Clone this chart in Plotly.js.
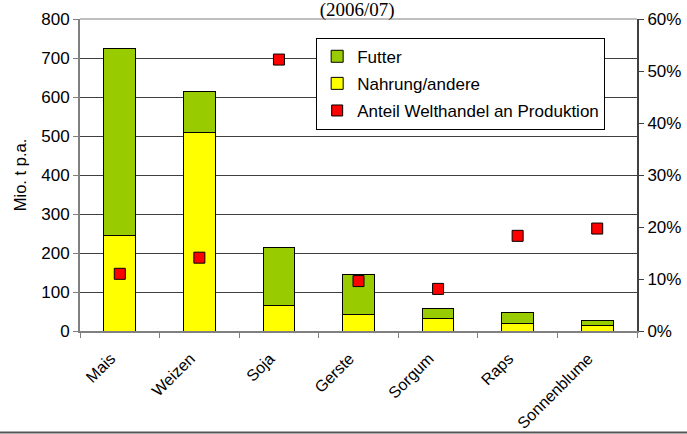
<!DOCTYPE html>
<html>
<head>
<meta charset="utf-8">
<script src="https://cdn.plot.ly/plotly-3.0.1.min.js"></script>
<style>
  html, body { margin: 0; padding: 0; background: #fff; }
  #plot1 { width: 687px; height: 434px; }
</style>
</head>
<body>
<div id="plot1"></div>
<script>
var kulturen = ['Mais', 'Weizen', 'Soja', 'Gerste', 'Sorgum', 'Raps', 'Sonnenblume'];

// Mio. t p.a.
var nahrung = [246, 509, 65, 43, 33, 20, 14];
var futter = [479, 106, 150, 102, 24, 27, 12];

// Anteil Welthandel an Produktion (Anteil von 1)
var anteil_welthandel = [0.110, 0.141, 0.522, 0.096, 0.081, 0.183, 0.197];

var trace1 = {
  x: kulturen,
  y: nahrung,
  type: 'bar',
  name: 'Nahrung/andere',
  legendrank: 2,
  legendgroup: 'b',
  marker: {color: '#FFFF00', line: {color: '#000', width: 1}}
};

var trace2 = {
  x: kulturen,
  y: futter,
  type: 'bar',
  name: 'Futter',
  legendrank: 1,
  legendgroup: 'a',
  marker: {color: '#99CC00', line: {color: '#000', width: 1}}
};

var trace3 = {
  x: kulturen,
  y: anteil_welthandel,
  yaxis: 'y2',
  type: 'scatter',
  mode: 'markers',
  name: 'Anteil Welthandel an Produktion',
  legendrank: 3,
  legendgroup: 'c',
  marker: {symbol: 'square', size: 11, color: '#FF0000', line: {color: '#000', width: 1}}
};

var layout = {
  width: 687,
  height: 434,
  margin: {l: 80, r: 50, t: 19, b: 103},
  barmode: 'stack',
  bargap: 0.6,
  showlegend: true,
  paper_bgcolor: '#fff',
  plot_bgcolor: '#fff',
  font: {family: 'Liberation Sans, Arial, sans-serif', size: 17, color: '#000'},
  title: {
    text: '(2006/07)',
    font: {family: 'Liberation Serif, Times New Roman, serif', size: 19, color: '#000'},
    x: 0.52, xanchor: 'center',
    yref: 'container', y: 0.993, yanchor: 'top'
  },
  xaxis: {
    tickangle: -45,
    tickson: 'boundaries',
    ticks: 'outside', ticklen: 5, tickcolor: '#808080',
    showline: true, linecolor: '#808080', linewidth: 2,
    ticklabelstandoff: 10,
    ticklabelshift: -9,
    tickfont: {size: 16}
  },
  yaxis: {
    range: [0, 800],
    dtick: 100,
    ticks: 'outside', ticklen: 5, tickcolor: '#808080',
    showline: true, linecolor: '#808080', linewidth: 2,
    gridcolor: '#404040', gridwidth: 1,
    zeroline: false,
    title: {text: 'Mio. t p.a.', font: {size: 16.5}, standoff: 10},
    tickfont: {size: 17}
  },
  yaxis2: {
    overlaying: 'y',
    side: 'right',
    range: [0, 0.6],
    dtick: 0.1,
    tickformat: '.0%',
    ticks: 'outside', ticklen: 5, tickcolor: '#404040',
    showline: true, linecolor: '#404040', linewidth: 2,
    showgrid: false, zeroline: false,
    tickfont: {size: 17}
  },
  legend: {
    x: 0.424, y: 0.94, xanchor: 'left', yanchor: 'top',
    bgcolor: '#fff', bordercolor: '#000', borderwidth: 1,
    traceorder: 'grouped', tracegroupgap: 2,
    font: {size: 17}
  },
  shapes: [
    {type: 'line', xref: 'paper', yref: 'paper', x0: 0, x1: 1, y0: 1, y1: 1,
     line: {color: '#808080', width: 1}},
    {type: 'line', xref: 'paper', yref: 'paper', x0: -0.2, x1: 1.2,
     y0: -0.325, y1: -0.325, line: {color: '#555', width: 2}}
  ]
};

var data = [trace1, trace2, trace3];

Plotly.newPlot('plot1', data, layout, {displayModeBar: false});
</script>
</body>
</html>
